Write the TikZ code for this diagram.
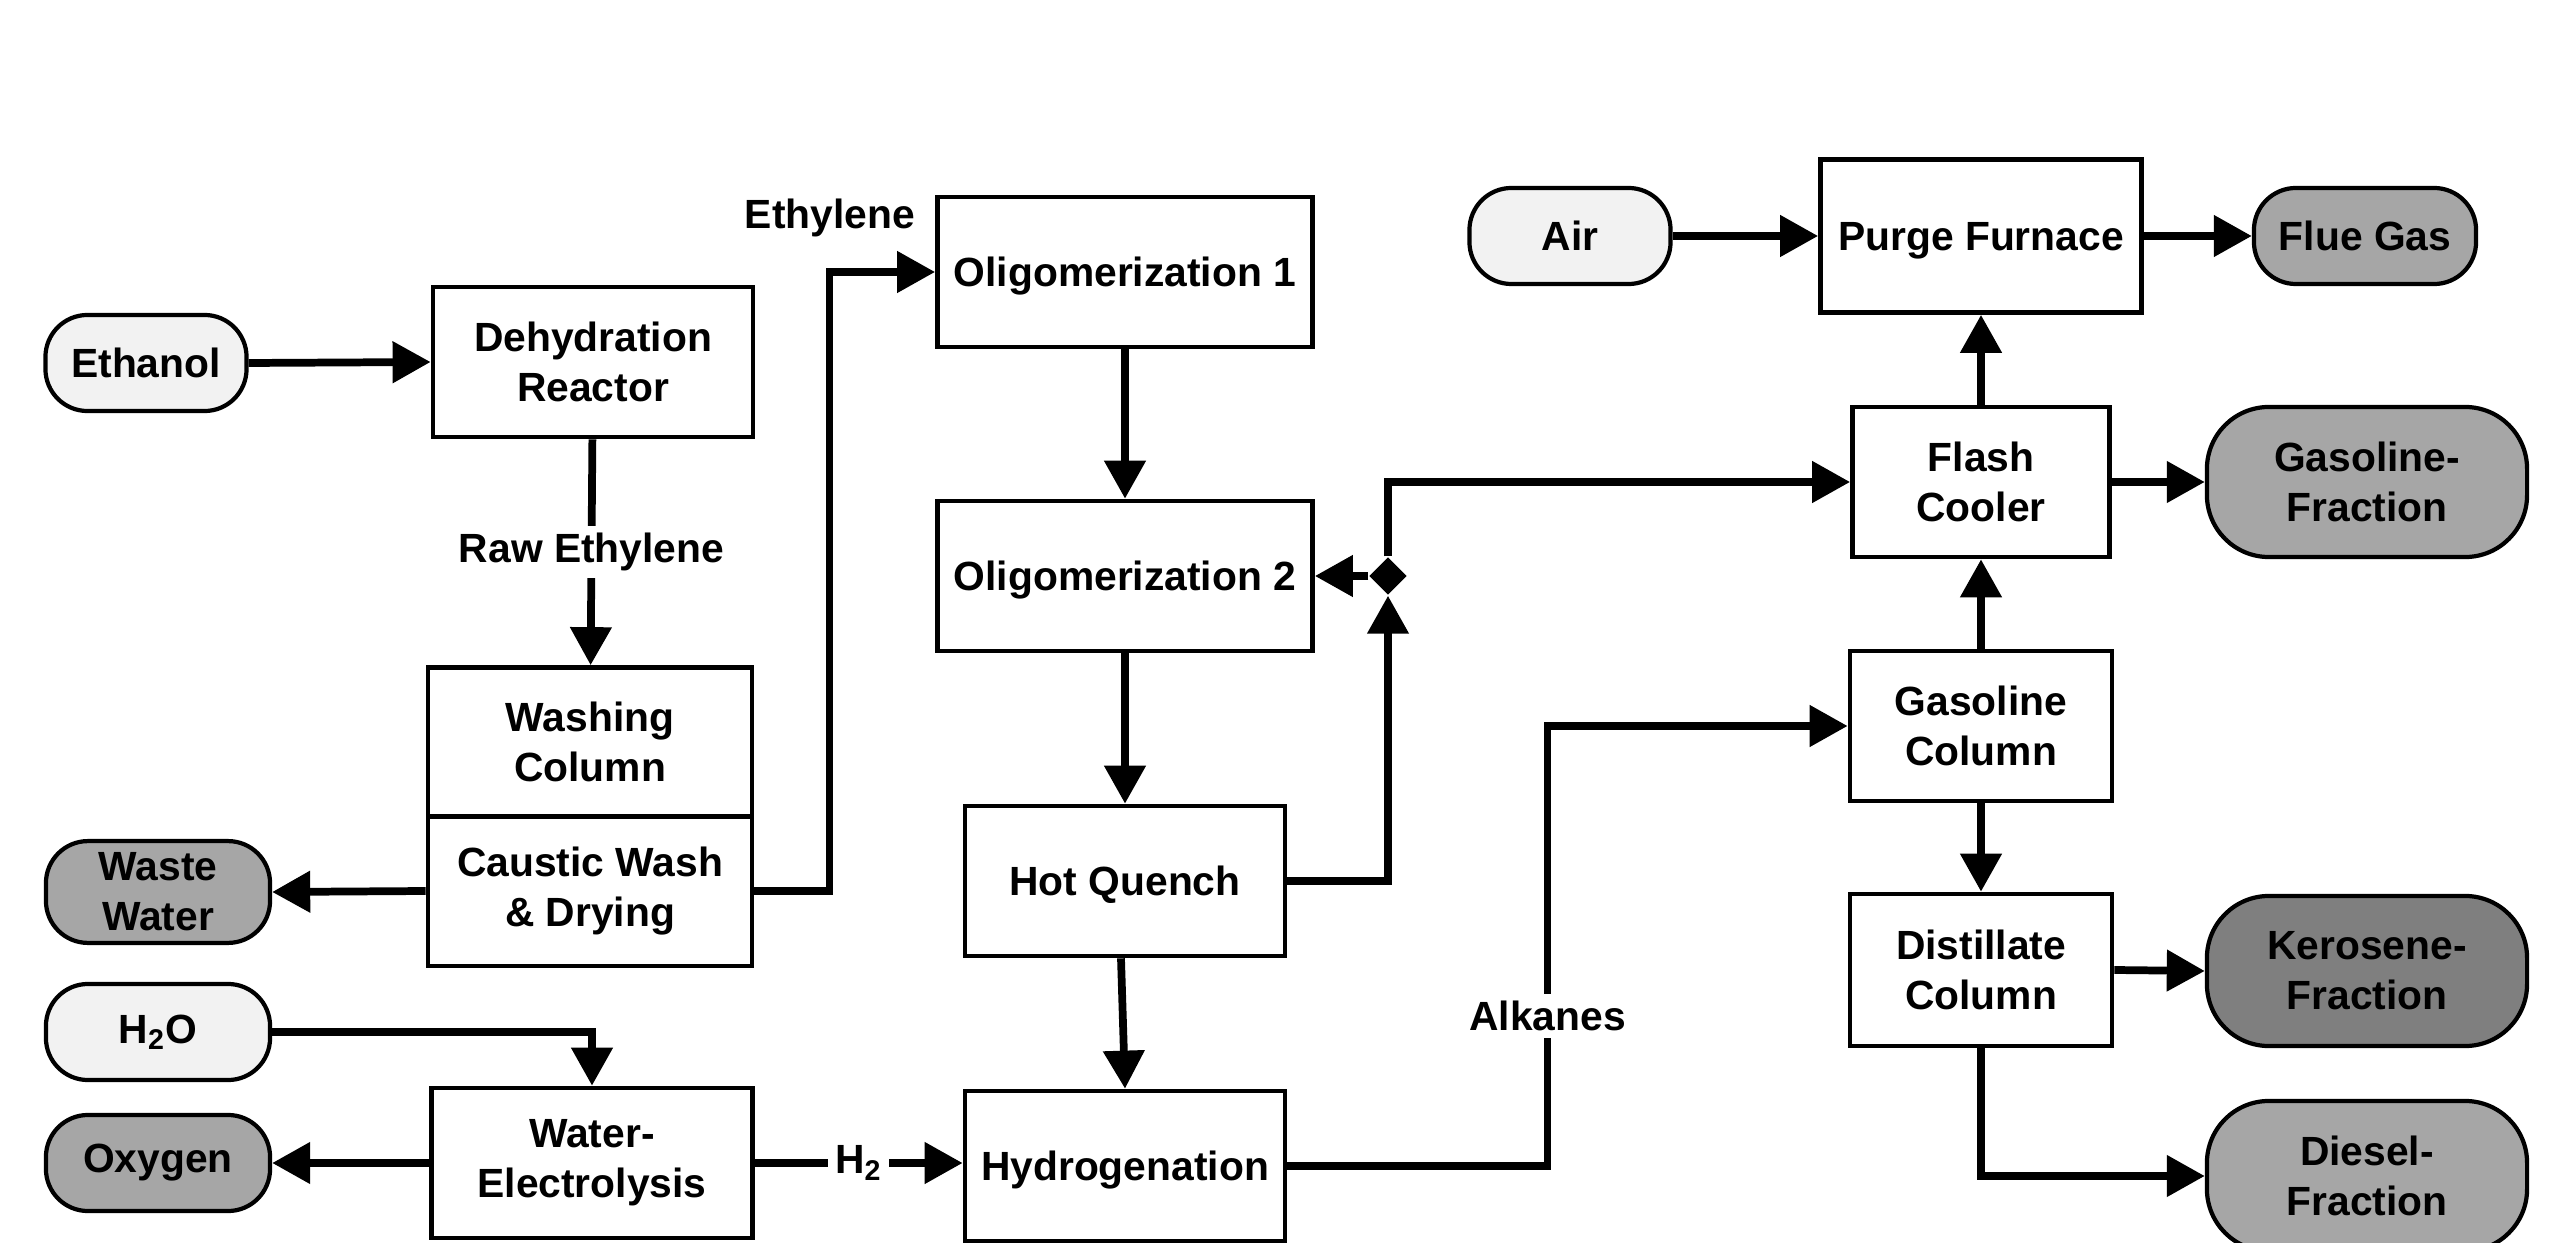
\documentclass[tikz,border=0pt]{standalone}
\usepackage{fontspec}
\setmainfont{Liberation Sans}
\usetikzlibrary{arrows.meta,shapes.geometric}
\definecolor{feedgray}{HTML}{F2F2F2}
\definecolor{prodgray}{HTML}{A6A6A6}
\definecolor{darkprod}{HTML}{7F7F7F}
\newcommand{\unitfont}{\bfseries\fontsize{11.6}{14.2}\selectfont}

\tikzset{
  unit/.style={draw, line width=1.3pt, minimum height=1.5cm, align=center, font=\unitfont},
  oneline/.style={unit, text depth=0pt},
  stream/.style={draw, line width=1.2pt, rounded corners=0.42cm, minimum height=0.96cm,
    align=center, font=\unitfont},
  feed/.style={stream, fill=feedgray},
  product/.style={stream, fill=prodgray},
  bigproduct/.style={product, minimum height=1.5cm, rounded corners=0.62cm},
  flow/.style={line width=2.2pt, -{Triangle[length=0.38cm,width=0.4cm]}},
  lbl/.style={fill=white, inner sep=2pt, font=\unitfont},
}

\begin{document}
\begin{tikzpicture}[x=0.01cm, y=-0.01cm]
\useasboundingbox (0,0) rectangle (2575,1243);
% feeds and products
\node[feed, minimum width=2.01cm] (ethanol) at (146,363) {Ethanol};
\node[product, minimum width=2.24cm] (waste) at (158,892) {Waste\\Water};
\node[feed, minimum width=2.24cm] (h2o) at (158,1032) {H\textsubscript{2}O};
\node[product, minimum width=2.24cm] (oxygen) at (158,1163) {Oxygen};
\node[feed, minimum width=2.01cm] (air) at (1570,236) {Air};
\node[product, minimum width=2.22cm] (flue) at (2365,236) {Flue Gas};
\node[bigproduct, minimum width=3.2cm] (gasfrac) at (2367,482) {Gasoline-\\Fraction};
\node[bigproduct, minimum width=3.2cm, fill=darkprod] (kero) at (2367,971) {Kerosene-\\Fraction};
\node[bigproduct, minimum width=3.2cm] (diesel) at (2367,1176) {Diesel-\\Fraction};
% process units
\node[unit, minimum width=3.2cm] (dehyd) at (593,362) {Dehydration\\Reactor};
\node[unit, minimum width=3.24cm, minimum height=1.49cm] (wash) at (590,742) {Washing\\Column};
\node[unit, minimum width=3.24cm] (caustic) at (590,891) {Caustic Wash\\\& Drying};
\node[unit, minimum width=3.21cm] (elec) at (592,1163) {Water-\\Electrolysis};
\node[oneline, minimum width=3.75cm] (oligoA) at (1125,272) {Oligomerization 1};
\node[oneline, minimum width=3.75cm] (oligoB) at (1125,576) {Oligomerization 2};
\node[oneline, minimum width=3.2cm] (quench) at (1125,881) {Hot Quench};
\node[oneline, minimum width=3.2cm] (hydro) at (1125,1166) {Hydrogenation};
\node[oneline, minimum width=3.21cm, minimum height=1.53cm] (purge) at (1981,236) {Purge Furnace};
\node[unit, minimum width=2.57cm] (flash) at (1981,482) {Flash\\Cooler};
\node[unit, minimum width=2.62cm] (gascol) at (1981,726) {Gasoline\\Column};
\node[unit, minimum width=2.62cm, minimum height=1.52cm] (dist) at (1981,970) {Distillate\\Column};
\node[diamond, fill, inner sep=0pt, minimum size=0.38cm] (split) at (1388,576) {};
\node[lbl] (ethylene) at (830,218) {Ethylene};
% streams
\path[flow]
  (ethanol.east) edge (dehyd.west)
  (dehyd) edge node[lbl] {Raw Ethylene} (wash)
  (caustic.west) edge (waste.east)
  (elec.west) edge (oxygen.east)
  (elec.east) edge node[lbl] {H\textsubscript{2}} (elec.east -| hydro.west)
  (oligoA) edge (oligoB)
  (oligoB) edge (quench)
  ([xshift=-0.04cm]quench.south) edge (hydro.north)
  (split.west) edge (oligoB.east)
  (air.east) edge (purge.west)
  (purge.east) edge (flue.west)
  (flash) edge (purge)
  (flash.east) edge (gasfrac.west)
  (gascol) edge (flash)
  (gascol) edge (dist)
  (dist.east) edge (kero.west);
\draw[flow] (caustic.east) -- ++(0.75cm,0) |- (oligoA.west);
\draw[flow] (h2o.east) -| (elec.north);
\draw[flow] (quench.east) -| (split.south);
\draw[flow] (split.north) |- (flash.west);
\draw[flow] (hydro.east) -- ++(2.6cm,0) |- node[lbl, pos=0.17] {Alkanes} (gascol.west);
\draw[flow] (dist.south) |- (diesel.west);
\end{tikzpicture}
\end{document}
